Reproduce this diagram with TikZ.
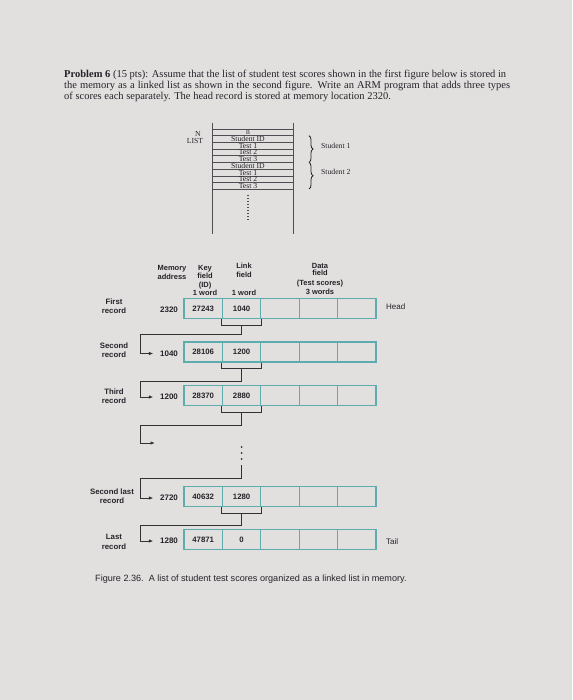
\documentclass[tikz,border=0pt]{standalone}
\usepackage{fontspec}
\setmainfont{Liberation Serif}
\setsansfont{Liberation Sans}
\usetikzlibrary{arrows.meta,decorations.pathreplacing,calc}
\definecolor{paper}{RGB}{226,224,223}
\definecolor{tealc}{RGB}{95,172,175}
\definecolor{ink}{RGB}{35,35,40}
\definecolor{conn}{RGB}{50,50,54}
\newcommand{\recordrow}[5]{%
  \node[cell] (#1k) at (203.2,#2) {#4};
  \node[cell] (#1l) at (241.6,#2) {#5};
  \node[cell] (#1a) at (280,#2) {};
  \node[cell] (#1b) at (318.4,#2) {};
  \node[cell] (#1c) at (356.8,#2) {};
  \node[addr] (#1m) at (169,{#2+1.5}) {#3};
}
\begin{document}
\begin{tikzpicture}[x=1pt,y=-1pt,
  prob/.style={anchor=base west,inner sep=0,font=\fontsize{10.5}{11}\selectfont,text=ink},
  tiny/.style={inner sep=0,font=\fontsize{7.7}{7.7}\selectfont,text=ink},
  lbl/.style={inner sep=0,align=center,text=ink,font=\sffamily\bfseries\fontsize{7.5}{8.3}\selectfont},
  addr/.style={inner sep=2.5pt,text=ink,font=\sffamily\bfseries\fontsize{8}{8}\selectfont},
  cell/.style={draw=tealc,line width=1.1pt,minimum width=38.4pt,minimum height=20pt,inner sep=0,text=ink,font=\sffamily\bfseries\fontsize{7.8}{8}\selectfont},
  lnk/.style={draw=conn,line width=0.9pt},
  arr/.style={lnk,-{Latex[length=4.5pt,width=3.5pt]},shorten >=4pt},
  listline/.style={draw=ink!80,line width=0.7pt},
  bracestyle/.style={draw=ink,line width=0.8pt,decorate,decoration={brace,amplitude=4pt}}
]
\fill[paper] (0,0) rectangle (572,700);
\useasboundingbox (0,0) rectangle (572,700);

% problem statement
\node[prob] (p1) at (64,78) {\makebox[442pt][s]{\textbf{Problem 6} (15 pts): Assume that the list of student test scores shown in the first figure below is stored in}};
\node[prob] (p2) at (64,88.8) {\makebox[446pt][s]{the memory as a linked list as shown in the second figure. Write an ARM program that adds three types}};
\node[prob] (p3) at (64,99.5) {of scores each separately. The head record is stored at memory location 2320.};

% first figure: list in memory
\draw[listline] (212,123) -- (212,234);
\draw[listline] (293,123) -- (293,234);
\foreach \k in {0,...,9}{
  \draw[listline] (212,{129+6.7*\k}) -- (293,{129+6.7*\k});
}
\foreach \t [count=\k from 0] in {n,Student ID,Test 1,Test 2,Test 3,Student ID,Test 1,Test 2,Test 3}{
  \node[tiny] (row\k) at (248,{129+6.7*(\k+0.5)}) {\t};
}
\draw[ink!80,line width=1.3pt,dash pattern=on 1.4pt off 1.6pt] (248,195) -- (248,221);
\node[tiny] (nlab) at (198,134) {N};
\node[tiny] (listlab) at (195,141) {LIST};
\draw[bracestyle] (309,135.7) -- (309,162.4);
\draw[bracestyle] (309,162.4) -- (309,189);
\node[tiny,anchor=west] (s1) at (321,145.5) {Student 1};
\node[tiny,anchor=west] (s2) at (321,172) {Student 2};

% headers
\node[lbl] (hmem) at (172,272.5) {Memory\\address};
\node[lbl] (hkey) at (205,280.6) {Key\\field\\(ID)\\1 word};
\node[lbl] (hlink) at (244,270.3) {Link\\field};
\node[lbl] (hlinkw) at (244,292.9) {1 word};
\node[lbl,font=\sffamily\bfseries\fontsize{7.5}{7}\selectfont] (hdata) at (320,269.2) {Data\\field};
\node[lbl,font=\sffamily\bfseries\fontsize{7.5}{9}\selectfont] (hdataw) at (320,287.5) {(Test scores)\\3 words};

% records
\recordrow{ra}{308.5}{2320}{27243}{1040}
\recordrow{rb}{352}{1040}{28106}{1200}
\recordrow{rc}{395.5}{1200}{28370}{2880}
\recordrow{rd}{496.5}{2720}{40632}{1280}
\recordrow{re}{539.5}{1280}{47871}{0}

\node[lbl,font=\sffamily\bfseries\fontsize{7.8}{8.8}\selectfont] (fr) at (114,306.5) {First\\record};
\node[lbl,font=\sffamily\bfseries\fontsize{7.8}{8.8}\selectfont] (sr) at (114,350.5) {Second\\record};
\node[lbl,font=\sffamily\bfseries\fontsize{7.8}{8.8}\selectfont] (tr) at (114,396.3) {Third\\record};
\node[lbl,font=\sffamily\bfseries\fontsize{7.8}{8.8}\selectfont] (slr) at (112,496.5) {Second last\\record};
\node[lbl,font=\sffamily\bfseries\fontsize{7.8}{9.5}\selectfont] (lr) at (114,541.7) {Last\\record};
\node[lbl,font=\sffamily\fontsize{8}{8}\selectfont,anchor=west] (head) at (386,306.5) {Head};
\node[lbl,font=\sffamily\fontsize{8}{8}\selectfont,anchor=west] (tail) at (386,541.7) {Tail};

% connectors
\foreach \r in {ra,rb,rc,rd}{
  \draw[lnk] (\r l.south west) -- ++(0,6) -| (\r l.south east);
  \coordinate (\r b) at ($(\r l.south)+(0,6)$);
}
\coordinate (h1) at (140,334);
\coordinate (h2) at (140,381);
\coordinate (h3) at (140,425);
\coordinate (h4) at (140,478);
\coordinate (h5) at (140,525);
\coordinate (xend) at (159,443);
\coordinate (dtop) at (241.6,465);
\draw[arr] (rab) |- (h1) |- (rbm.west);
\draw[arr] (rbb) |- (h2) |- (rcm.west);
\draw[arr] (rcb) |- (h3) |- (xend);
\draw[arr] (dtop) |- (h4) |- (rdm.west);
\draw[arr] (rdb) |- (h5) |- (rem.west);
\foreach \yy in {447,453,459}{
  \fill[conn] (241.6,\yy) circle (1.1pt);
}

% caption
\node[anchor=west,inner sep=0,text=ink,font=\sffamily\fontsize{9.1}{10}\selectfont] (cap) at (95,579.5) {Figure 2.36.\ \ A list of student test scores organized as a linked list in memory.};
\end{tikzpicture}
\end{document}
